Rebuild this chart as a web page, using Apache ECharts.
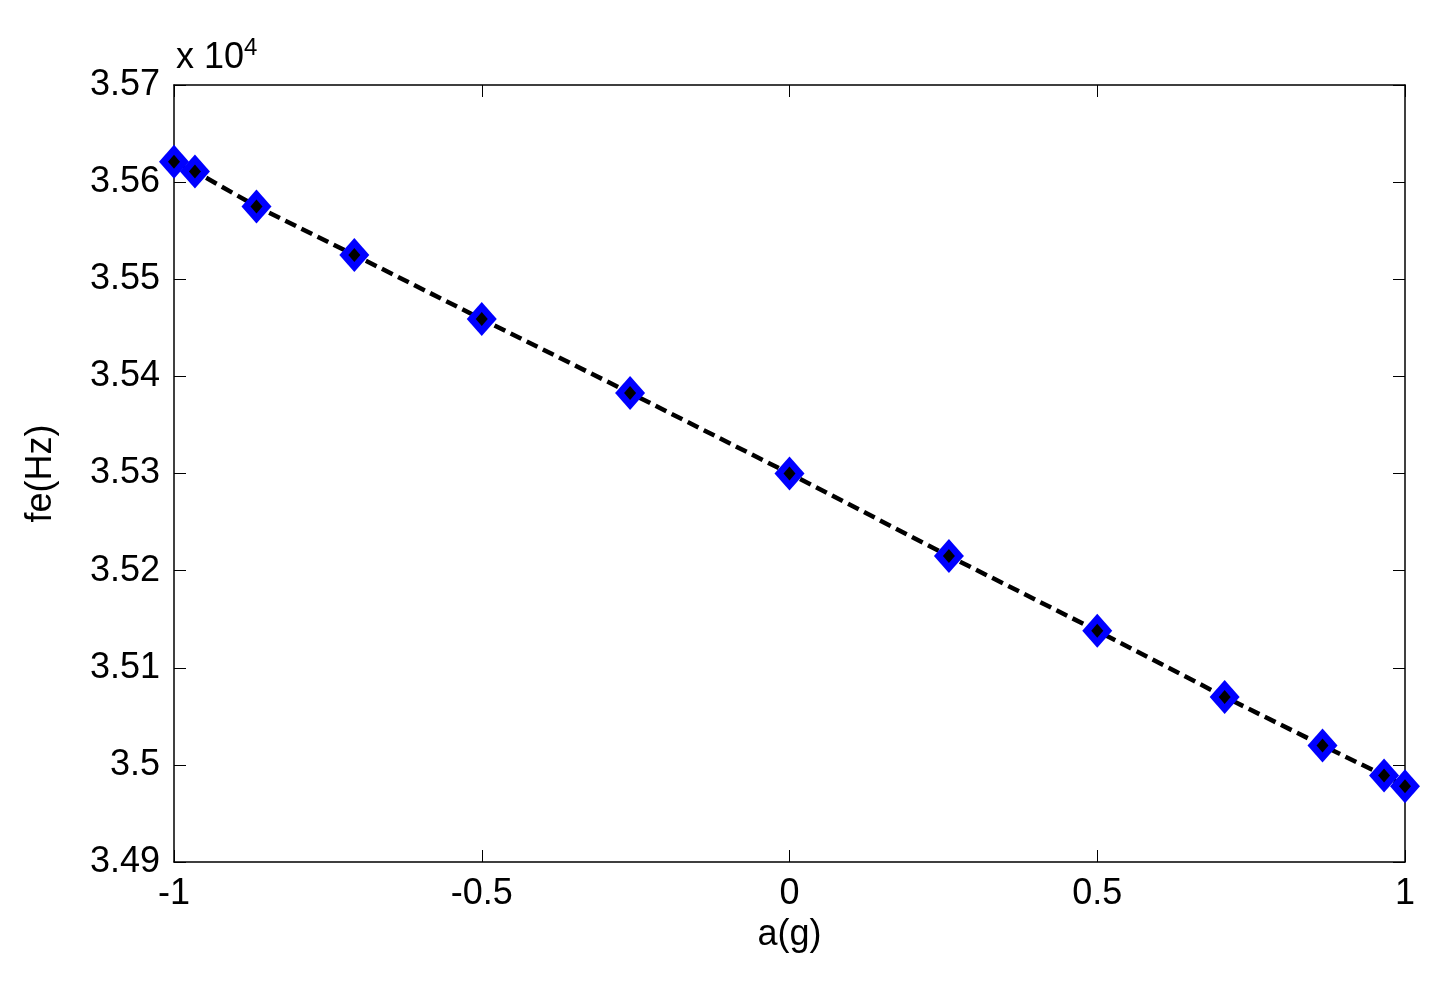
<!DOCTYPE html>
<html><head><meta charset="utf-8">
<script src="https://cdn.jsdelivr.net/npm/echarts@6/dist/echarts.min.js"></script>
<style>html,body{margin:0;background:#fff}#c{width:1440px;height:981px}</style>
</head><body><div id="c"></div>
<script>
const xValues=[-1,-0.966,-0.866,-0.707,-0.5,-0.259,0,0.259,0.5,0.707,0.866,0.966,1];
const yValues=[35621,35611,35575,35525,35459,35383,35300,35215,35138,35070,35020,34989,34978];
const pts=xValues.map((x,i)=>[x,yValues[i]]);
const font='Liberation Sans, Arial, sans-serif';
const ax={axisLine:{show:true,onZero:false,lineStyle:{color:'#000',width:1.5}},axisTick:{show:true,inside:true,length:12,lineStyle:{color:'#000'}},splitLine:{show:false}};
const chart=echarts.init(document.getElementById('c'));
chart.setOption({
 animation:false,
 grid:{left:174,right:35,top:85,bottom:119},
 xAxis:[
  Object.assign({type:'value',min:-1,max:1,interval:0.5,position:'bottom',name:'a(g)',nameLocation:'middle',nameGap:50,nameTextStyle:{fontSize:36,fontFamily:font,color:'#000'},
   axisLabel:{fontSize:36,fontFamily:font,color:'#000',margin:14}},ax),
  Object.assign({type:'value',min:-1,max:1,interval:0.5,position:'top',axisLabel:{show:false}},ax)
 ],
 yAxis:[
  Object.assign({type:'value',min:34900,max:35700,interval:100,position:'left',name:'fe(Hz)',nameLocation:'middle',nameGap:115,nameTextStyle:{fontSize:36,fontFamily:font,color:'#000'},
   axisLabel:{fontSize:36,fontFamily:font,color:'#000',margin:14,formatter:v=>String(+(v/10000).toFixed(2))}},ax),
  Object.assign({type:'value',min:34900,max:35700,interval:100,position:'right',axisLabel:{show:false}},ax)
 ],
 graphic:[{type:'text',left:176,top:36,style:{rich:{a:{fontSize:36,fontFamily:font,fill:'#000'},b:{fontSize:24,fontFamily:font,fill:'#000',verticalAlign:'top',padding:[0,0,20,0]}},text:'{a|x 10}{b|4}'}}],
 series:[
  {type:'line',data:pts,symbol:'none',lineStyle:{color:'#000',width:4.5,type:[12,6]},z:2},
  {type:'scatter',data:pts,symbol:'diamond',symbolSize:[30,34],itemStyle:{color:'#0000ff',opacity:1},z:3},
  {type:'scatter',data:pts,symbol:'diamond',symbolSize:[12,14],itemStyle:{color:'#000',opacity:1},z:4}
 ]
});
</script></body></html>
